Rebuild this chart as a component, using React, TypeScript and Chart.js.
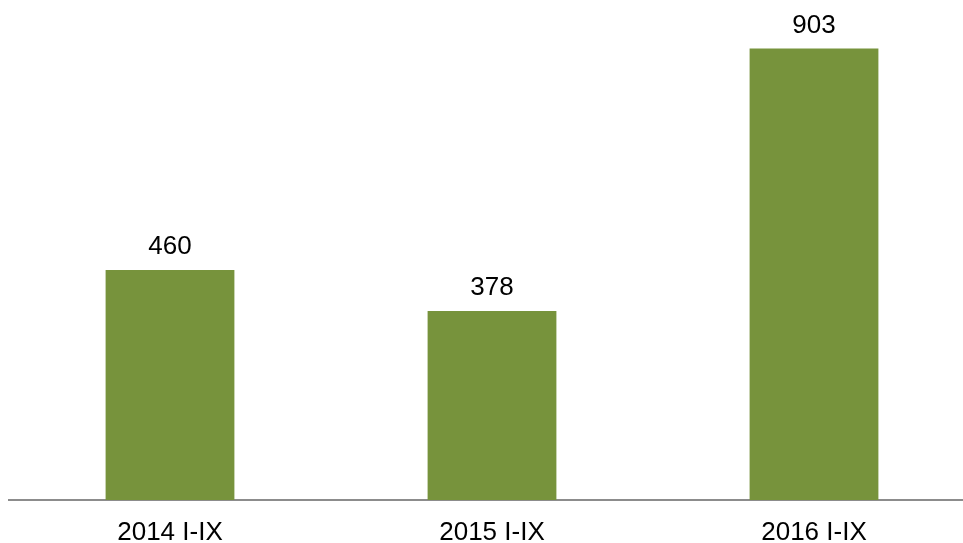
import React, { useEffect, useRef } from "react";
import { Chart, registerables } from "chart.js";

Chart.register(...registerables);

const categories = ["2014 I-IX", "2015 I-IX", "2016 I-IX"];
const values = [460, 378, 903];

const valueLabels = {
  id: "valueLabels",
  afterDatasetsDraw(chart: any) {
    const ctx = chart.ctx;
    const meta = chart.getDatasetMeta(0);
    ctx.save();
    ctx.font = "26px 'Liberation Sans', Arial, sans-serif";
    ctx.fillStyle = "#000000";
    ctx.textAlign = "center";
    ctx.textBaseline = "alphabetic";
    meta.data.forEach((bar: any, i: number) => {
      ctx.fillText(String(values[i]), bar.x, bar.y - 16);
    });
    ctx.restore();
  },
};

export default function App() {
  const ref = useRef<HTMLCanvasElement>(null);
  useEffect(() => {
    if (!ref.current) return;
    const chart = new Chart(ref.current, {
      type: "bar",
      data: {
        labels: categories,
        datasets: [
          {
            data: values,
            backgroundColor: "#77933C",
            borderWidth: 0,
            barPercentage: 0.4,
            categoryPercentage: 1,
          },
        ],
      },
      options: {
        responsive: false,
        animation: false,
        layout: { padding: { left: 9, right: 15, top: 0, bottom: 0 } },
        plugins: { legend: { display: false }, tooltip: { enabled: false } },
        scales: {
          x: {
            grid: { display: false, drawTicks: false },
            border: { display: true, color: "#8c8c8c", width: 2 },
            ticks: {
              color: "#000000",
              padding: 17,
              font: { family: "'Liberation Sans', Arial, sans-serif", size: 26 },
            },
            afterFit(scale: any) {
              scale.height = 43;
            },
          },
          y: {
            display: false,
            min: 0,
            max: 1000,
          },
        },
      },
      plugins: [valueLabels],
    });
    return () => chart.destroy();
  }, []);
  return (
    <div
      style={{
        position: "fixed",
        left: 0,
        top: 0,
        width: 963,
        height: 543,
        overflow: "hidden",
        background: "#ffffff",
      }}
    >
      <canvas ref={ref} width={990} height={543} style={{ display: "block" }} />
    </div>
  );
}
